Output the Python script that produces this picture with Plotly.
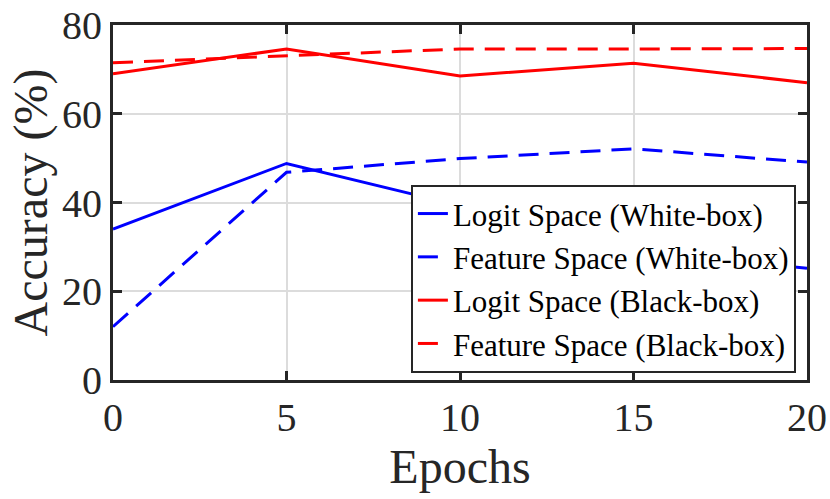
import plotly.graph_objects as go

# 数据
epochs = [0, 5, 10, 15, 20]
logit_white = [34.0, 48.8, 39.3, 29.0, 25.2]
feature_white = [12.0, 46.8, 49.9, 52.1, 49.1]
logit_black = [69.0, 74.6, 68.5, 71.4, 67.0]
feature_black = [71.5, 73.0, 74.6, 74.6, 74.7]

x_ticks = [0, 5, 10, 15, 20]
y_ticks = [0, 20, 40, 60, 80]

font_family = 'Liberation Serif'
axis_color = '#262626'
dash_style = '20px,11px'

fig = go.Figure()

series = [
    ('Logit Space (White-box)', logit_white, 'blue', 'solid'),
    ('Feature Space (White-box)', feature_white, 'blue', dash_style),
    ('Logit Space (Black-box)', logit_black, 'red', 'solid'),
    ('Feature Space (Black-box)', feature_black, 'red', dash_style),
]

for name, values, color, dash in series:
    fig.add_trace(
        go.Scatter(
            x=epochs,
            y=values,
            name=name,
            mode='lines',
            line=dict(color=color, width=3, dash=dash)
        )
    )

# 更新布局
fig.update_layout(
    width=830,
    height=499,
    plot_bgcolor='white',
    paper_bgcolor='white',
    font=dict(family=font_family, color=axis_color),
    margin=dict(l=113, r=23, t=25, b=119, autoexpand=False),
    legend=dict(
        x=0.984,
        y=0.02,
        xanchor='right',
        yanchor='bottom',
        bgcolor='white',
        bordercolor=axis_color,
        borderwidth=2,
        font=dict(size=31, family=font_family, color='black'),
        itemwidth=30,
        tracegroupgap=0
    ),
    xaxis=dict(
        title=dict(text='Epochs', font=dict(size=48), standoff=6),
        range=[0, 20],
        tickvals=x_ticks,
        tickfont=dict(size=40),
        ticklabeloverflow='allow',
        showgrid=True,
        gridcolor='#dcdcdc',
        gridwidth=2,
        showline=True,
        linecolor=axis_color,
        linewidth=3,
        mirror='ticks',
        ticks='inside',
        ticklen=9,
        tickwidth=3,
        tickcolor=axis_color,
        zeroline=False,
        automargin=False
    ),
    yaxis=dict(
        title=dict(text='Accuracy (%)', font=dict(size=48), standoff=0),
        range=[0, 80],
        tickvals=y_ticks,
        tickfont=dict(size=40),
        ticklabeloverflow='allow',
        showgrid=True,
        gridcolor='#dcdcdc',
        gridwidth=2,
        showline=True,
        linecolor=axis_color,
        linewidth=3,
        mirror='ticks',
        ticks='inside',
        ticklen=9,
        tickwidth=3,
        tickcolor=axis_color,
        zeroline=False,
        automargin=False
    )
)

# 去掉页面默认的 8px 边距，并隐藏工具栏
fig.write_html(
    'out.html',
    config={'displayModeBar': False},
    post_script="document.body.style.margin='0';"
)
